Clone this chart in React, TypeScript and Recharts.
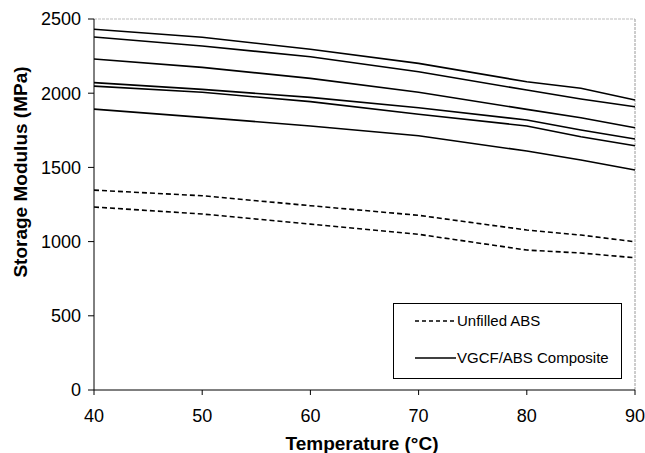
import React from "react"
import { Legend, Line, LineChart, ReferenceLine, XAxis, YAxis } from "recharts"

// temperatures (°C) where values were read
const temps = [40, 50, 60, 70, 80, 85, 90]

// unfilled ABS, two runs (MPa)
const absHigh = [1347, 1309, 1242, 1177, 1078, 1044, 999]
const absLow = [1233, 1186, 1118, 1049, 943, 923, 891]

// VGCF/ABS composite, six runs (MPa)
const comp1 = [2431, 2377, 2296, 2201, 2077, 2033, 1954]
const comp2 = [2379, 2318, 2246, 2145, 2021, 1961, 1909]
const comp3 = [2230, 2174, 2100, 2006, 1891, 1835, 1767]
const comp4 = [2071, 2026, 1972, 1902, 1819, 1752, 1691]
const comp5 = [2048, 2006, 1943, 1858, 1779, 1707, 1646]
const comp6 = [1893, 1837, 1779, 1713, 1610, 1550, 1482]

const xTicks = [40, 50, 60, 70, 80, 90]
const yTicks = [0, 500, 1000, 1500, 2000, 2500]

const compositeKeys = ["comp1", "comp2", "comp3", "comp4", "comp5", "comp6"]
const absKeys = ["absHigh", "absLow"]

const data = temps.map((t, i) => ({
  t,
  absHigh: absHigh[i],
  absLow: absLow[i],
  comp1: comp1[i],
  comp2: comp2[i],
  comp3: comp3[i],
  comp4: comp4[i],
  comp5: comp5[i],
  comp6: comp6[i],
}))

const FONT = "Arial, 'Liberation Sans', sans-serif"

function LegendBox() {
  return (
    <div
      style={{
        width: 227,
        height: 74,
        border: "1px solid #000",
        background: "#fff",
        fontFamily: FONT,
        fontSize: 15,
        color: "#000",
        position: "relative",
      }}
    >
      <svg width={44} height={74} style={{ position: "absolute", left: 21, top: 0 }}>
        <line x1={0} x2={41} y1={17} y2={17} stroke="#000" strokeWidth={1.3} strokeDasharray="4 3" />
        <line x1={0} x2={41} y1={54} y2={54} stroke="#000" strokeWidth={1.3} />
      </svg>
      <div style={{ position: "absolute", left: 63, top: 8, whiteSpace: "nowrap" }}>Unfilled ABS</div>
      <div style={{ position: "absolute", left: 63, top: 45, whiteSpace: "nowrap" }}>VGCF/ABS Composite</div>
    </div>
  )
}

export default function App() {
  return (
    <div style={{ position: "absolute", left: 0, top: 0, background: "#fff" }}>
      <LineChart
        width={645}
        height={453}
        data={data}
        margin={{ top: 19, right: 10, bottom: 0, left: 0 }}
      >
        <ReferenceLine y={2500} stroke="#bdbdbd" strokeDasharray="3 1" />
        <ReferenceLine x={90} stroke="#9a9a9a" strokeDasharray="3 1" />
        <XAxis
          dataKey="t"
          type="number"
          domain={[40, 90]}
          ticks={xTicks}
          height={63}
          stroke="#000"
          tickSize={5}
          tickMargin={14}
          tick={{ fill: "#000", fontSize: 18, fontFamily: FONT }}
          label={{
            content: () => (
              <text x={362} y={450} textAnchor="middle" fontFamily={FONT} fontSize={19} fontWeight="bold" fill="#000">
                Temperature (°C)
              </text>
            ),
          }}
        />
        <YAxis
          type="number"
          domain={[0, 2500]}
          ticks={yTicks}
          width={94}
          stroke="#000"
          tickSize={6}
          tickMargin={7}
          tick={{ fill: "#000", fontSize: 18, fontFamily: FONT }}
          label={{
            content: () => (
              <text
                x={20}
                y={172}
                transform="rotate(-90, 20, 172)"
                textAnchor="middle"
                dominantBaseline="central"
                fontFamily={FONT}
                fontSize={19}
                fontWeight="bold"
                fill="#000"
              >
                Storage Modulus (MPa)
              </text>
            ),
          }}
        />
        {absKeys.map((k) => (
          <Line
            key={k}
            dataKey={k}
            type="linear"
            stroke="#000"
            strokeWidth={1.6}
            strokeDasharray="5 3"
            dot={false}
            isAnimationActive={false}
          />
        ))}
        {compositeKeys.map((k) => (
          <Line
            key={k}
            dataKey={k}
            type="linear"
            stroke="#000"
            strokeWidth={1.6}
            dot={false}
            isAnimationActive={false}
          />
        ))}
        <Legend
          layout="horizontal"
          align="center"
          verticalAlign="middle"
          content={() => <LegendBox />}
          wrapperStyle={{ position: "absolute", left: 393, top: 303, width: 229, height: 76 }}
        />
      </LineChart>
    </div>
  )
}
